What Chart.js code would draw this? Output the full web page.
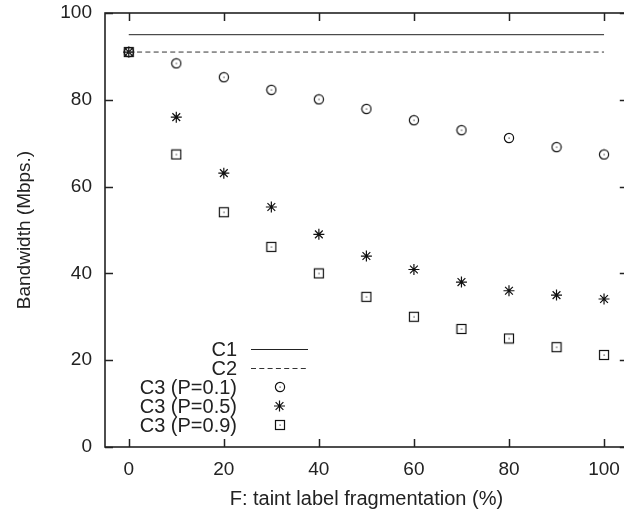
<!DOCTYPE html>
<html>
<head>
<meta charset="utf-8">
<script src="https://cdn.jsdelivr.net/npm/chart.js@4/dist/chart.umd.min.js"></script>
<style>
  html, body { margin: 0; padding: 0; overflow: hidden; background: #fff; }
  #wrap { width: 635px; height: 514px; }
</style>
</head>
<body>
<div id="wrap"><canvas id="chart" width="635" height="514"></canvas></div>
<script>
// fragmentation levels (%)
const fragLevels = [0, 10, 20, 30, 40, 50, 60, 70, 80, 90, 100];
const lineSpan = [0, 100];

// bandwidth, Mbps
const c1Values = [95, 95];
const c2Values = [91, 91];
const c3p01Values = [91, 88.4, 85.2, 82.3, 80.1, 77.9, 75.3, 73.0, 71.2, 69.1, 67.4];
const c3p05Values = [91, 76.0, 63.1, 55.3, 49.0, 44.0, 40.9, 38.0, 36.0, 35.0, 34.1];
const c3p09Values = [91, 67.4, 54.1, 46.1, 40.0, 34.6, 30.0, 27.2, 25.0, 23.0, 21.2];

const xTicks = [0, 20, 40, 60, 80, 100];
const yTicks = [0, 20, 40, 60, 80, 100];

const seriesNames = ['C1', 'C2', 'C3 (P=0.1)', 'C3 (P=0.5)', 'C3 (P=0.9)'];

const INK = '#222';
const FONT = '"Liberation Sans", Arial, Helvetica, sans-serif';

function pairs(xs, ys) {
  return ys.map((y, i) => ({ x: xs[i], y }));
}

// small marker sprites: ring / box with a dot in the middle
function makeMarker(kind) {
  const c = document.createElement('canvas');
  c.width = 12;
  c.height = 12;
  const g = c.getContext('2d');
  g.strokeStyle = '#111';
  g.lineWidth = 1.2;
  if (kind === 'ring') {
    g.beginPath();
    g.arc(6, 6, 4.6, 0, Math.PI * 2);
    g.stroke();
  } else {
    g.strokeRect(1.5, 1.5, 9, 9);
  }
  g.fillStyle = '#333';
  g.fillRect(5.5, 5.5, 1.2, 1.2);
  return c;
}

const ringMarker = makeMarker('ring');
const boxMarker = makeMarker('box');

// gnuplot-like frame: inward ticks on all sides
const frameTicks = {
  id: 'frameTicks',
  afterDraw(chart) {
    const { ctx, chartArea: a, scales } = chart;
    const len = 8;
    ctx.save();
    ctx.strokeStyle = INK;
    ctx.lineWidth = 1.5;
    ctx.beginPath();
    for (const v of xTicks) {
      const px = Math.round(scales.x.getPixelForValue(v)) + 0.5;
      ctx.moveTo(px, a.bottom); ctx.lineTo(px, a.bottom - len);
      ctx.moveTo(px, a.top); ctx.lineTo(px, a.top + len);
    }
    for (const v of yTicks) {
      const py = Math.round(scales.y.getPixelForValue(v)) + 0.5;
      ctx.moveTo(a.left, py); ctx.lineTo(a.left + len, py);
      ctx.moveTo(a.right, py); ctx.lineTo(a.right - len, py);
    }
    ctx.stroke();
    ctx.lineWidth = 1.6;
    ctx.strokeRect(a.left, a.top, a.right - a.left, a.bottom - a.top);
    ctx.restore();
  }
};

// key in the lower left of the plot: label, then sample
const keyBox = {
  id: 'keyBox',
  afterDraw(chart) {
    const { ctx, chartArea: a } = chart;
    const textRight = a.left + 132;
    const sampleL = a.left + 146;
    const sampleR = a.left + 203;
    const rowH = 19;
    const firstY = a.bottom - 98;
    ctx.save();
    ctx.font = '20px ' + FONT;
    ctx.fillStyle = INK;
    ctx.textAlign = 'right';
    ctx.textBaseline = 'middle';
    chart.data.datasets.forEach((ds, i) => {
      const y = firstY + i * rowH;
      ctx.fillText(ds.label, textRight, y + 1);
      const cy = Math.round(y) + 0.5;
      if (ds.showLine) {
        ctx.strokeStyle = ds.borderColor;
        ctx.lineWidth = 1;
        ctx.setLineDash(ds.borderDash || []);
        ctx.beginPath();
        ctx.moveTo(sampleL, cy);
        ctx.lineTo(sampleR, cy);
        ctx.stroke();
        ctx.setLineDash([]);
      } else {
        const mid = (sampleL + sampleR) / 2;
        if (ds.pointStyle instanceof HTMLCanvasElement) {
          ctx.drawImage(ds.pointStyle, Math.round(mid - 6), Math.round(y - 6));
        } else {
          ctx.strokeStyle = ds.pointBorderColor;
          ctx.lineWidth = ds.pointBorderWidth;
          Chart.helpers.drawPoint(ctx, {
            pointStyle: ds.pointStyle, radius: ds.pointRadius, rotation: 0,
            borderWidth: ds.pointBorderWidth
          }, mid, y);
        }
      }
    });
    ctx.restore();
  }
};

function lineSet(label, ys, dash) {
  return {
    label,
    data: pairs(lineSpan, ys),
    showLine: true,
    borderColor: dash ? '#333' : INK,
    borderWidth: 1,
    borderDash: dash || [],
    pointRadius: 0,
    pointHoverRadius: 0
  };
}

function pointSet(label, ys, style, radius) {
  return {
    label,
    data: pairs(fragLevels, ys),
    showLine: false,
    pointStyle: style,
    pointRadius: radius,
    pointBorderColor: '#111',
    pointBackgroundColor: 'transparent',
    pointBorderWidth: 1.2
  };
}

new Chart(document.getElementById('chart'), {
  type: 'scatter',
  data: {
    datasets: [
      lineSet(seriesNames[0], c1Values),
      lineSet(seriesNames[1], c2Values, [5, 3.3]),
      pointSet(seriesNames[2], c3p01Values, ringMarker, 6),
      pointSet(seriesNames[3], c3p05Values, 'star', 5.5),
      pointSet(seriesNames[4], c3p09Values, boxMarker, 6)
    ]
  },
  options: {
    responsive: false,
    animation: false,
    events: [],
    layout: { padding: { top: 13, right: 3, left: 8, bottom: 3 } },
    plugins: {
      legend: { display: false },
      tooltip: { enabled: false }
    },
    scales: {
      x: {
        type: 'linear',
        min: -5,
        max: 105,
        afterBuildTicks: (s) => { s.ticks = xTicks.map((v) => ({ value: v })); },
        afterFit: (s) => {
          s.height = 64;
          s.paddingLeft = 0;
          s.paddingRight = 0;
        },
        grid: { display: false, drawTicks: false },
        border: { display: false },
        ticks: { color: INK, font: { family: FONT, size: 19 }, padding: 11, maxRotation: 0 },
        title: { display: true, text: 'F: taint label fragmentation (%)', color: INK, font: { family: FONT, size: 20 }, padding: { top: 0, bottom: 0 } }
      },
      y: {
        type: 'linear',
        min: 0,
        max: 100,
        afterBuildTicks: (s) => { s.ticks = yTicks.map((v) => ({ value: v })); },
        afterFit: (s) => {
          s.width = 97;
          s.paddingTop = 0;
          s.paddingBottom = 0;
        },
        grid: { display: false, drawTicks: false },
        border: { display: false },
        ticks: { color: INK, font: { family: FONT, size: 19 }, padding: 13 },
        title: { display: true, text: 'Bandwidth (Mbps.)', color: INK, font: { family: FONT, size: 19 }, padding: { top: 5, bottom: 0 } }
      }
    }
  },
  plugins: [frameTicks, keyBox]
});
</script>
</body>
</html>
